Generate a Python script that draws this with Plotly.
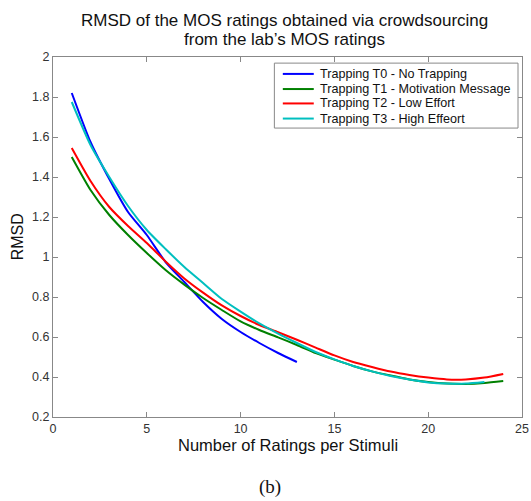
import plotly.graph_objects as go

x_t0 = list(range(1, 14))
rmsd_t0 = [1.82, 1.575, 1.39, 1.225, 1.11, 0.975, 0.875, 0.775, 0.69, 0.625, 0.57, 0.52, 0.475]

x_t1 = list(range(1, 25))
rmsd_t1 = [1.50, 1.335, 1.21, 1.11, 1.02, 0.935, 0.862, 0.795, 0.735, 0.678, 0.635, 0.598, 0.56,
           0.52, 0.487, 0.455, 0.428, 0.407, 0.388, 0.375, 0.367, 0.365, 0.37, 0.38]

x_t2 = list(range(1, 25))
rmsd_t2 = [1.545, 1.38, 1.25, 1.155, 1.07, 0.978, 0.893, 0.822, 0.758, 0.705, 0.66, 0.624, 0.586,
           0.547, 0.508, 0.475, 0.45, 0.427, 0.41, 0.397, 0.388, 0.388, 0.397, 0.415]

x_t3 = list(range(1, 24))
rmsd_t3 = [1.775, 1.56, 1.40, 1.255, 1.135, 1.04, 0.95, 0.87, 0.79, 0.727, 0.668, 0.617, 0.57,
           0.525, 0.488, 0.455, 0.428, 0.405, 0.387, 0.373, 0.367, 0.367, 0.375]

names = ["Trapping T0 - No Trapping", "Trapping T1 - Motivation Message",
         "Trapping T2 - Low Effort", "Trapping T3 - High Effeort"]
colors = ["#0000FF", "#008000", "#FF0000", "#00BFBF"]

x_ticks = [0, 5, 10, 15, 20, 25]
y_ticks = [0.2, 0.4, 0.6, 0.8, 1.0, 1.2, 1.4, 1.6, 1.8, 2.0]
y_tick_labels = ["0.2", "0.4", "0.6", "0.8", "1", "1.2", "1.4", "1.6", "1.8", "2"]

title_lines = ["RMSD of the MOS ratings obtained via crowdsourcing", "from the lab’s MOS ratings"]
x_title = "Number of Ratings per Stimuli"
y_title = "RMSD"
caption = "(b)"

font_family = "Liberation Sans, Arial, sans-serif"
txt_color = "#111111"

fig = go.Figure()
for xs, ys, nm, c in zip([x_t0, x_t1, x_t2, x_t3], [rmsd_t0, rmsd_t1, rmsd_t2, rmsd_t3], names, colors):
    fig.add_trace(go.Scatter(x=xs, y=ys, mode="lines", name=nm, showlegend=False,
                             line=dict(color=c, width=2, shape="spline", smoothing=0.6)))

axis_common = dict(showline=True, linecolor="#888888", linewidth=1, mirror="ticks",
                   ticks="inside", ticklen=5, tickcolor="#888888", showgrid=False,
                   zeroline=False, automargin=False,
                   tickfont=dict(size=12.5, color="#333333", family=font_family))

annotations = []
# title (two tight lines)
for line, yp in zip(title_lines, [1.102, 1.049]):
    annotations.append(dict(text=line, xref="paper", yref="paper", x=0.493, y=yp,
                            xanchor="center", yanchor="middle", showarrow=False,
                            font=dict(size=17, family=font_family, color=txt_color)))
# axis titles
annotations.append(dict(text=x_title, xref="paper", yref="paper", x=0.5, y=-0.078,
                        xanchor="center", yanchor="middle", showarrow=False,
                        font=dict(size=16.5, family=font_family, color=txt_color)))
annotations.append(dict(text=y_title, xref="paper", yref="paper", x=-0.076, y=0.5,
                        xanchor="center", yanchor="middle", showarrow=False, textangle=-90,
                        font=dict(size=16, family=font_family, color=txt_color)))
# caption
annotations.append(dict(text=caption, xref="paper", yref="paper", x=0.463, y=-0.195,
                        xanchor="center", yanchor="middle", showarrow=False,
                        font=dict(size=19, family="Liberation Serif, Times New Roman, serif",
                                  color=txt_color)))

# legend (box, sample lines, labels) in paper coordinates
shapes = [dict(type="rect", xref="paper", yref="paper", x0=0.472, x1=0.9915, y0=0.8026, y1=0.983,
               line=dict(color="#888888", width=1), fillcolor="white", layer="above")]
leg_rows = [0.953, 0.911, 0.871, 0.829]
for nm, c, yr in zip(names, colors, leg_rows):
    shapes.append(dict(type="line", xref="paper", yref="paper", x0=0.49, x1=0.556, y0=yr, y1=yr,
                       line=dict(color=c, width=2), layer="above"))
    annotations.append(dict(text=nm, xref="paper", yref="paper", x=0.564, y=yr,
                            xanchor="left", yanchor="middle", showarrow=False,
                            font=dict(size=12.6, family=font_family, color=txt_color)))

fig.update_layout(
    width=531, height=501,
    margin=dict(l=53, r=9, t=57, b=84.3, autoexpand=False),
    plot_bgcolor="white", paper_bgcolor="white",
    font=dict(family=font_family, color=txt_color),
    xaxis=dict(range=[0, 25], tickvals=x_ticks, ticktext=[str(v) for v in x_ticks], **axis_common),
    yaxis=dict(range=[0.2, 2.0], tickvals=y_ticks, ticktext=y_tick_labels, **axis_common),
    showlegend=False,
    shapes=shapes,
    annotations=annotations,
)

fig.write_html("out.html", config={"displayModeBar": False},
               post_script="document.body.style.margin='0';document.body.style.overflow='hidden';")
